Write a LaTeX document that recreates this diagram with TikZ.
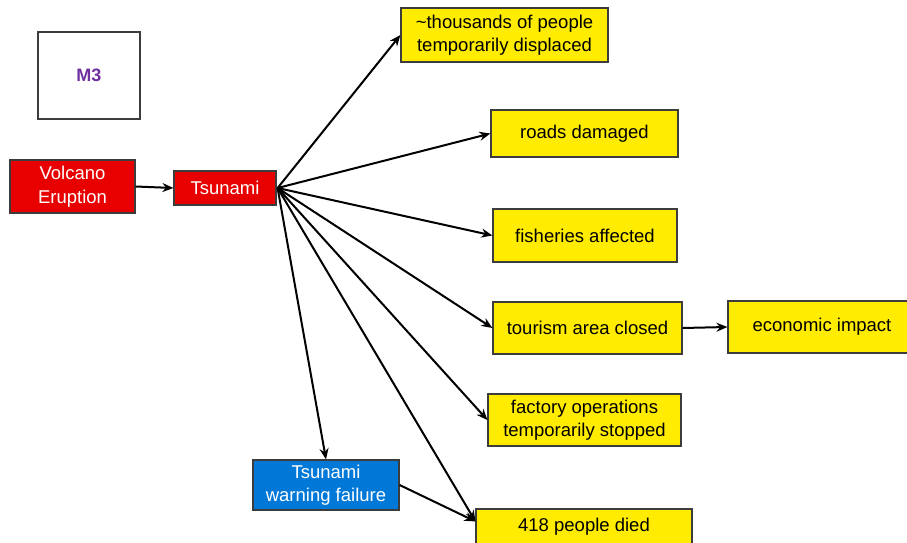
\documentclass[tikz,border=0pt]{standalone}
\usepackage{fontspec}
\setmainfont{Liberation Sans}
\usetikzlibrary{arrows.meta,positioning,calc}
\definecolor{boxred}{RGB}{232,0,0}
\definecolor{boxblue}{RGB}{0,120,215}
\definecolor{boxyellow}{RGB}{255,236,0}
\definecolor{edgegray}{RGB}{60,60,60}
\definecolor{labelpurple}{RGB}{112,48,160}
\tikzset{
  box/.style={draw=edgegray, line width=1.2pt, rectangle, align=center, inner sep=0pt,
    font=\fontsize{18.5}{23.5}\selectfont},
  cause/.style={box, fill=boxred, text=white},
  warnbox/.style={box, fill=boxblue, text=white},
  effect/.style={box, fill=boxyellow, text=black},
  link/.style={line width=2pt, -{Stealth[length=11pt,width=9pt]}},
}
\begin{document}
\begin{tikzpicture}[x=1pt,y=-1pt]
\useasboundingbox (0,0) rectangle (907,543);
\clip (0,0) rectangle (907,543);

% label box
\node[box, fill=white, minimum width=102pt, minimum height=87pt,
      text=labelpurple, font=\fontsize{18}{20}\selectfont\bfseries] (m3) at (89,75.5) {M3};

% causes
\node[cause, minimum width=125pt, minimum height=53pt] (volcano) at (72.5,186.5) {Volcano\\Eruption};
\node[cause, minimum width=102pt, minimum height=34pt] (tsunami) at (225,188) {Tsunami};
\node[warnbox, minimum width=146pt, minimum height=50pt] (warn) at (326,485) {Tsunami\\warning failure};

% effects
\node[effect, minimum width=207pt, minimum height=54pt] (displaced) at (504.5,35) {\textasciitilde thousands of people\\temporarily displaced};
\node[effect, minimum width=187pt, minimum height=47pt] (roads) at (584.5,133.5) {roads damaged};
\node[effect, minimum width=184pt, minimum height=53pt] (fish) at (585,235.5) {fisheries affected};
\node[effect, minimum width=189pt, minimum height=52pt] (tourism) at (587.5,328) {tourism area closed};
\node[effect, minimum width=188pt, minimum height=52pt] (economy) at (822,327) {economic impact};
\node[effect, minimum width=193pt, minimum height=52pt] (factory) at (584.5,420) {factory operations\\temporarily stopped};
\node[effect, minimum width=216pt, minimum height=36pt] (died) at (584,527) {418 people died};

% connector end points
\coordinate (fan) at ($(tsunami.east)+(1,0)$);
\coordinate (diedin) at ($(died.north west)+(0,13)$);

% connectors
\draw[link] (volcano.east) -- (tsunami.west);
\draw[link] (fan) -- (displaced.west);
\draw[link] (fan) -- (roads.west);
\draw[link] (fan) -- (fish.west);
\draw[link] (fan) -- (tourism.west);
\draw[link] (fan) -- (factory.west);
\draw[link] (fan) -- (warn.north);
\draw[link] (fan) -- (diedin);
\draw[link] (warn.east) -- (diedin);
\draw[link] (tourism.east) -- (economy.west);
\end{tikzpicture}
\end{document}
